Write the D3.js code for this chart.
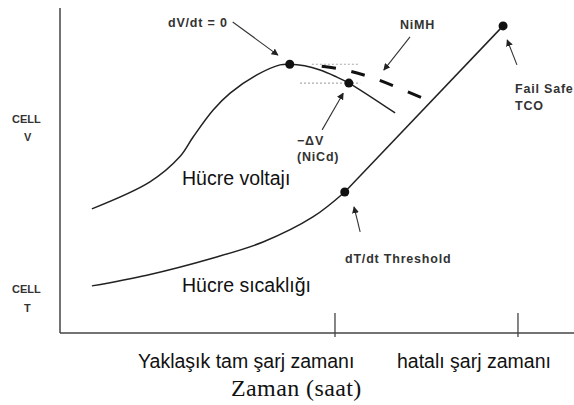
<!DOCTYPE html>
<html>
<head>
<meta charset="utf-8">
<script src="https://cdn.jsdelivr.net/npm/d3@7"></script>
<style>
  body { margin: 0; background: #fff; }
  svg { display: block; }
  .small { font-family: "Liberation Sans", Arial, sans-serif; font-weight: bold; fill: #333; }
  .big { font-family: "Liberation Sans", Arial, sans-serif; fill: #111; }
</style>
</head>
<body>
<div id="chart"></div>
<script>
// schematic units: time 0..100, level 0..100
const voltage = [
  [6.2, 38.2], [17.5, 46.5], [23.3, 54.2], [25.9, 60.3], [29.8, 68.6],
  [33.1, 73.8], [38.3, 79.4], [42.8, 82.5], [44.7, 82.7], [47.6, 82.2],
  [50.6, 80.9], [53.5, 79.0], [56.2, 76.9], [65.2, 67.7]
];
const temperature = [
  [6.2, 14.5], [16.9, 17.8], [29.8, 23.1], [39.5, 28.0], [49.2, 35.7], [55.4, 43.4]
];
const tempRise = [[55.4, 43.4], [86.2, 94.5]];
const nimh = [[49.0, 82.4], [54.5, 81.2], [60.3, 78.8], [71.0, 72.0]];
const markers = [[44.7, 82.7], [56.2, 76.9], [55.4, 43.4], [86.2, 94.5]];
const refLines = [[49.0, 58.0, 82.7], [46.7, 58.4, 76.9]];
const xTicks = [53.5, 89.1];
const arrows = [
  [33.6, 95.7, 42.4, 85.5],
  [68.1, 91.1, 63.0, 80.9],
  [51.0, 62.5, 55.1, 73.8],
  [88.9, 82.5, 87.0, 90.2],
  [58.4, 31.1, 57.2, 38.8]
];

const width = 574, height = 405;
const svg = d3.select("#chart").append("svg")
    .attr("width", width)
    .attr("height", height);

const x = d3.scaleLinear().domain([0, 100]).range([60, 574]);
const y = d3.scaleLinear().domain([0, 100]).range([333, 8]);

svg.append("defs").append("marker")
    .attr("id", "head")
    .attr("viewBox", "0 0 10 10")
    .attr("refX", 9).attr("refY", 5)
    .attr("markerWidth", 7).attr("markerHeight", 7)
    .attr("markerUnits", "userSpaceOnUse")
    .attr("orient", "auto")
  .append("path")
    .attr("d", "M0,0L10,5L0,10z")
    .attr("fill", "#222");

// axes
svg.append("line")
    .attr("x1", x(0)).attr("x2", x(0))
    .attr("y1", y(100)).attr("y2", y(0))
    .attr("stroke", "#444").attr("stroke-width", 1.5);
svg.append("line")
    .attr("x1", x(0)).attr("x2", x(100))
    .attr("y1", y(0)).attr("y2", y(0))
    .attr("stroke", "#444").attr("stroke-width", 1.5);
svg.selectAll(".tick")
  .data(xTicks)
  .enter().append("line")
    .attr("x1", d => x(d)).attr("x2", d => x(d))
    .attr("y1", y(0) - 20).attr("y2", y(0) + 4)
    .attr("stroke", "#444").attr("stroke-width", 1.3);

// dotted reference lines
svg.selectAll(".ref")
  .data(refLines)
  .enter().append("line")
    .attr("x1", d => x(d[0])).attr("x2", d => x(d[1]))
    .attr("y1", d => y(d[2])).attr("y2", d => y(d[2]))
    .attr("stroke", "#aaa").attr("stroke-width", 1.2)
    .attr("stroke-dasharray", "2,2");

const line = d3.line()
    .x(d => x(d[0]))
    .y(d => y(d[1]))
    .curve(d3.curveCatmullRom);

svg.append("path").datum(voltage)
    .attr("d", line)
    .attr("fill", "none").attr("stroke", "#222").attr("stroke-width", 1.5);
svg.append("path").datum(temperature)
    .attr("d", line)
    .attr("fill", "none").attr("stroke", "#222").attr("stroke-width", 1.5);
svg.append("path").datum(tempRise)
    .attr("d", d3.line().x(d => x(d[0])).y(d => y(d[1])))
    .attr("fill", "none").attr("stroke", "#222").attr("stroke-width", 1.5);
svg.append("path").datum(nimh)
    .attr("d", line)
    .attr("fill", "none").attr("stroke", "#111").attr("stroke-width", 3)
    .attr("stroke-dasharray", "0,10,14,16,14,16,14,16,14,16");

svg.selectAll(".dot")
  .data(markers)
  .enter().append("circle")
    .attr("cx", d => x(d[0])).attr("cy", d => y(d[1]))
    .attr("r", 4.5).attr("fill", "#111");

svg.selectAll(".arrow")
  .data(arrows)
  .enter().append("line")
    .attr("x1", d => x(d[0])).attr("y1", d => y(d[1]))
    .attr("x2", d => x(d[2])).attr("y2", d => y(d[3]))
    .attr("stroke", "#333").attr("stroke-width", 1.1)
    .attr("marker-end", "url(#head)");

// small labels
const notes = [
  ["dV/dt = 0", 168, 27],
  ["NiMH", 400, 29],
  ["\u2212\u0394V", 297, 145],
  ["(NiCd)", 297, 161],
  ["Fail Safe", 515, 93],
  ["TCO", 515, 110],
  ["dT/dt Threshold", 345, 263]
];
svg.selectAll(".note")
  .data(notes)
  .enter().append("text")
    .attr("class", "small")
    .attr("x", d => d[1]).attr("y", d => d[2])
    .attr("font-size", 12.5)
    .attr("letter-spacing", 0.8)
    .text(d => d[0]);

const axisNames = [
  ["CELL", 12, 123],
  ["V", 24, 141],
  ["CELL", 12, 293],
  ["T", 24, 312]
];
svg.selectAll(".axname")
  .data(axisNames)
  .enter().append("text")
    .attr("class", "small")
    .attr("x", d => d[1]).attr("y", d => d[2])
    .attr("font-size", 11)
    .text(d => d[0]);

const big = [
  ["Hücre voltajı", 182, 185],
  ["Hücre sıcaklığı", 182, 292],
  ["Yaklaşık tam şarj zamanı", 138, 368],
  ["hatalı şarj zamanı", 397, 368]
];
svg.selectAll(".big")
  .data(big)
  .enter().append("text")
    .attr("class", "big")
    .attr("x", d => d[1]).attr("y", d => d[2])
    .attr("font-size", 19.5)
    .text(d => d[0]);

svg.append("text")
    .attr("x", 231).attr("y", 396)
    .attr("font-family", "'Liberation Serif', 'Times New Roman', serif")
    .attr("font-size", 24)
    .attr("letter-spacing", 0.4)
    .attr("fill", "#111")
    .text("Zaman (saat)");
</script>
</body>
</html>
